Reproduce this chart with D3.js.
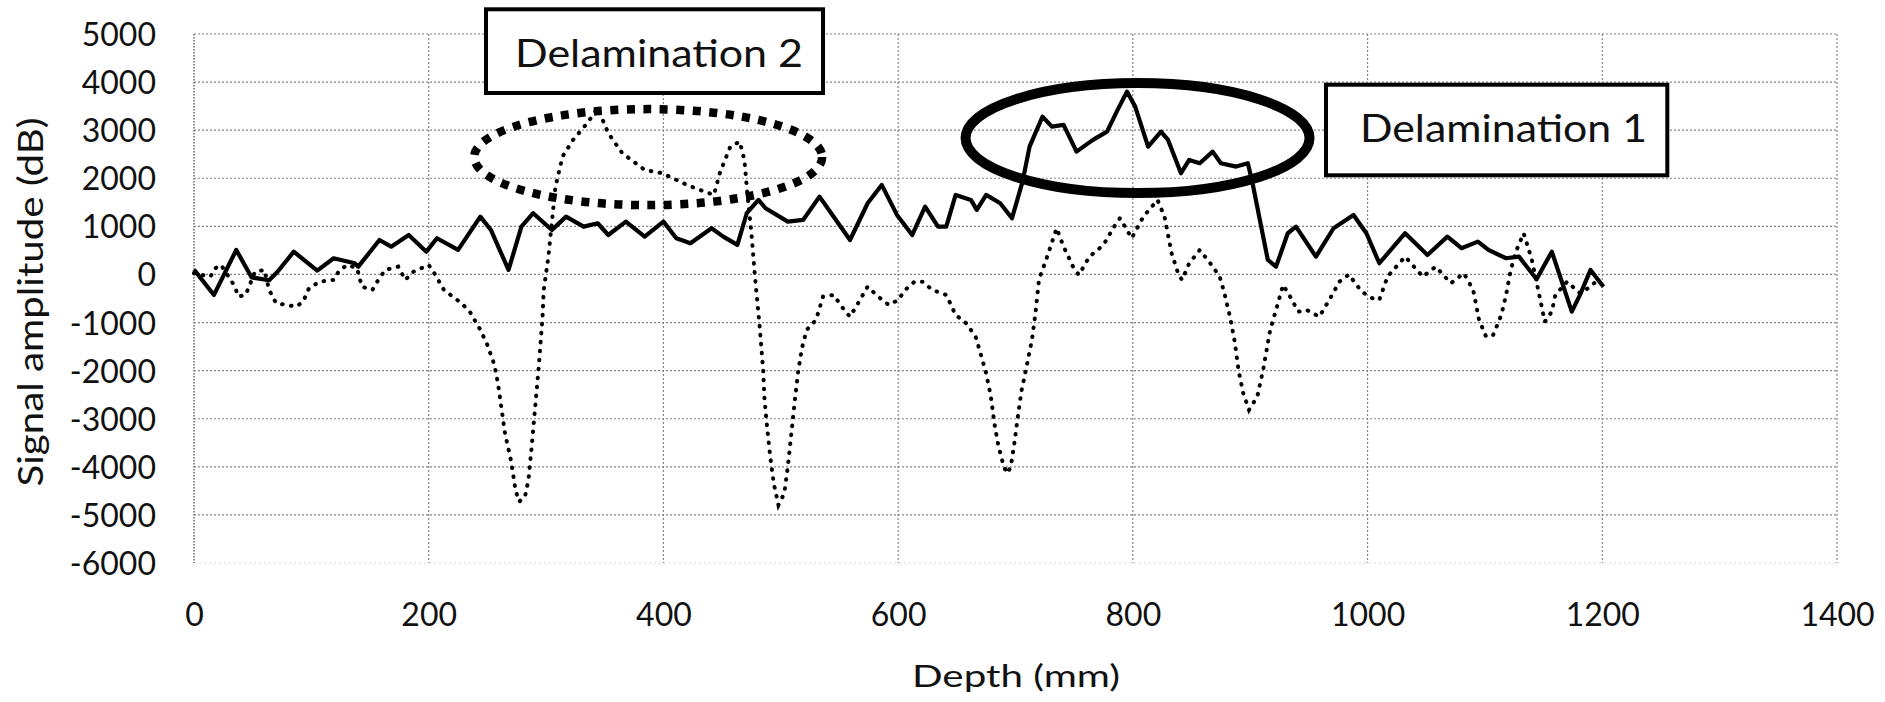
<!DOCTYPE html>
<html>
<head>
<meta charset="utf-8">
<script src="https://cdn.jsdelivr.net/npm/d3@7"></script>
<style>
  html, body { margin: 0; padding: 0; background: #fff; }
  svg { display: block; }
  text { font-family: Lato, "Open Sans", sans-serif; fill: #111; }
</style>
</head>
<body>
<svg id="chart" width="1885" height="702"></svg>
<script>
// Depth (mm) vs signal amplitude, solid trace
const solidTrace = [
  [0,100],[17,-426],[36,510],[49,-60],[64,-120],[71,52],[85,474],[105,80],[119,337],[137,233],
  [140,162],[158,717],[168,578],[183,821],[198,474],[207,753],[225,510],[244,1202],[253,925],[268,94],
  [279,994],[289,1273],[305,925],[317,1202],[332,994],[344,1065],[353,821],[368,1098],[384,786],[400,1098],
  [411,753],[423,649],[441,961],[451,786],[463,614],[471,1273],[481,1550],[487,1377],[506,1098],[519,1134],
  [533,1618],[544,1238],[559,717],[574,1481],[586,1862],[599,1238],[612,821],[623,1410],[634,994],[641,994],
  [649,1654],[662,1550],[667,1342],[675,1654],[687,1481],[697,1169],[706,1930],[712,2658],[723,3282],[731,3074],
  [741,3110],[752,2554],[766,2798],[778,2970],[787,3422],[795,3802],[802,3490],[813,2658],[824,2970],[830,2798],
  [841,2105],[848,2382],[857,2313],[868,2554],[875,2313],[888,2243],[898,2313],[902,1897],[915,302],[922,162],
  [932,857],[939,994],[956,370],[971,961],[988,1238],[999,857],[1010,233],[1032,857],[1051,406],[1068,786],
  [1080,545],[1094,682],[1103,510],[1118,337],[1129,370],[1144,-100],[1157,474],[1174,-774],[1181,-426],[1190,94],
  [1201,-254]
];

// Depth (mm) vs signal amplitude, dotted trace
const dottedTrace = [
  [0,25],[14,-45],[18,128],[23,198],[34,-218],[38,-461],[44,-426],[52,58],[60,94],[64,-322],
  [70,-600],[79,-634],[87,-670],[93,-565],[98,-287],[107,-150],[119,-114],[124,94],[131,198],[139,128],
  [143,-254],[152,-322],[157,-114],[163,94],[174,162],[180,-114],[187,58],[200,198],[204,58],[213,-322],
  [228,-600],[235,-774],[244,-1154],[250,-1466],[256,-1882],[259,-2263],[262,-2783],[265,-3303],[270,-3858],[274,-4482],
  [277,-4726],[282,-4622],[285,-4274],[288,-3511],[291,-2679],[294,-1847],[297,-878],[298,-322],[302,370],[308,1826],
  [314,2450],[323,2798],[335,3145],[344,3457],[353,2937],[365,2521],[384,2174],[399,2105],[420,1862],[435,1722],
  [443,1654],[448,2105],[457,2658],[465,2762],[469,2382],[472,1550],[475,857],[478,-45],[482,-1085],[485,-1986],
  [486,-2541],[488,-3095],[491,-3789],[494,-4343],[498,-4794],[503,-4551],[506,-3998],[509,-3303],[512,-2610],[515,-1986],
  [518,-1535],[522,-1154],[530,-946],[536,-461],[545,-426],[553,-704],[559,-878],[565,-634],[574,-254],[583,-461],
  [592,-634],[600,-530],[606,-322],[614,-150],[621,-150],[629,-322],[641,-426],[649,-842],[658,-1015],[666,-1294],
  [671,-1710],[675,-2055],[679,-2541],[682,-3095],[685,-3511],[690,-3998],[693,-4135],[696,-3998],[699,-3511],[702,-2958],
  [705,-2437],[710,-1847],[714,-1362],[717,-807],[720,-114],[725,233],[728,441],[735,961],[741,578],[749,162],
  [754,-10],[763,370],[775,614],[784,994],[789,1169],[795,925],[799,753],[809,1202],[821,1550],[827,1202],
  [833,441],[839,-10],[842,-114],[848,233],[857,510],[866,233],[874,-45],[878,-385],[883,-905],[887,-1425],
  [890,-1986],[894,-2465],[899,-2818],[906,-2541],[911,-1986],[917,-1154],[922,-738],[928,-218],[934,-461],[941,-774],
  [948,-738],[959,-878],[969,-461],[976,-150],[984,0],[995,-357],[1004,-495],[1010,-530],[1017,-45],[1032,370],
  [1047,-45],[1058,162],[1071,-183],[1082,25],[1090,-322],[1095,-946],[1101,-1294],[1107,-1258],[1114,-842],[1118,-426],
  [1122,94],[1127,510],[1133,857],[1140,302],[1146,-391],[1151,-982],[1157,-774],[1160,-426],[1170,-150],[1181,-391],
  [1190,-254],[1196,-114]
];

const xTickValues = [0, 200, 400, 600, 800, 1000, 1200, 1400];
const yTickValues = [5000, 4000, 3000, 2000, 1000, 0, -1000, -2000, -3000, -4000, -5000, -6000];
const xTitle = "Depth (mm)";
const yTitle = "Signal amplitude (dB)";
const callouts = ["Delamination 1", "Delamination 2"];

const svg = d3.select("#chart");
const margin = { left: 194, right: 48, top: 34, bottom: 139 };
const W = 1885, H = 702;
const x = d3.scaleLinear().domain([0, 1400]).range([margin.left, W - margin.right]);
const y = d3.scaleLinear().domain([-6000, 5000]).range([H - margin.bottom, margin.top]);

// Plain hyphen-minus for negative tick labels
const tickText = d => String(d);

// Grid (dotted, grey)
const grid = svg.append("g");
grid.selectAll("line.h").data(yTickValues.filter(v => v > -6000)).join("line")
  .attr("x1", x(0)).attr("x2", x(1400))
  .attr("y1", d => y(d)).attr("y2", d => y(d))
  .attr("stroke", "#858585").attr("stroke-width", 1.2).attr("stroke-dasharray", "2,2");
grid.append("line")
  .attr("x1", x(0)).attr("x2", x(1400)).attr("y1", y(-6000)).attr("y2", y(-6000))
  .attr("stroke", "#d4d4d4").attr("stroke-width", 1).attr("stroke-dasharray", "2,3");
grid.selectAll("line.v").data(xTickValues.filter(v => v > 0)).join("line")
  .attr("y1", y(5000)).attr("y2", y(-6000))
  .attr("x1", d => x(d)).attr("x2", d => x(d))
  .attr("stroke", "#858585").attr("stroke-width", 1.2).attr("stroke-dasharray", "2,2");
// Left axis line
grid.append("line")
  .attr("x1", x(0)).attr("x2", x(0)).attr("y1", y(5000)).attr("y2", y(-6000))
  .attr("stroke", "#8c8c8c").attr("stroke-width", 2).attr("stroke-dasharray", "1.5,1.5");

// Tick labels via d3 axes (domain and tick marks hidden)
const yAxis = svg.append("g").attr("transform", `translate(${x(0) - 38},0)`)
  .call(d3.axisLeft(y).tickValues(yTickValues).tickSize(0).tickPadding(0).tickFormat(tickText));
yAxis.select(".domain").remove();
yAxis.selectAll("text").attr("font-size", 32).attr("font-family", "Lato, sans-serif")
  .attr("fill", "#1a1a1a").attr("dy", "0.36em");

const xAxis = svg.append("g").attr("transform", `translate(0,${y(-6000)})`)
  .call(d3.axisBottom(x).tickValues(xTickValues).tickSize(0).tickPadding(0).tickFormat(tickText));
xAxis.select(".domain").remove();
xAxis.selectAll("text").attr("font-size", 32).attr("font-family", "Lato, sans-serif")
  .attr("fill", "#1a1a1a").attr("dy", null).attr("y", 62.5);

// Axis titles
svg.append("text")
  .attr("x", 1016).attr("y", 687)
  .attr("text-anchor", "middle").attr("font-size", 31)
  .attr("textLength", 208).attr("lengthAdjust", "spacingAndGlyphs")
  .attr("fill", "#1a1a1a")
  .text(xTitle);

svg.append("text")
  .attr("transform", "translate(42.5,302) scale(1.1,1) rotate(-90)")
  .attr("text-anchor", "middle").attr("font-size", 31)
  .attr("textLength", 369).attr("lengthAdjust", "spacingAndGlyphs")
  .attr("fill", "#1a1a1a")
  .text(yTitle);

// Series
const line = d3.line().x(d => x(d[0])).y(d => y(d[1]));

svg.append("path").datum(dottedTrace)
  .attr("d", line).attr("fill", "none")
  .attr("stroke", "#000").attr("stroke-width", 4)
  .attr("stroke-linecap", "round").attr("stroke-dasharray", "0.6,8.4");

svg.append("path").datum(solidTrace)
  .attr("d", line).attr("fill", "none")
  .attr("stroke", "#000").attr("stroke-width", 4.2)
  .attr("stroke-linejoin", "round");

// Callout ellipses
svg.append("ellipse")
  .attr("cx", x(387)).attr("cy", y(2440)).attr("rx", 174).attr("ry", 48)
  .attr("fill", "none").attr("stroke", "#000").attr("stroke-width", 8.5)
  .attr("stroke-dasharray", "8,8.5");

svg.append("ellipse")
  .attr("cx", x(804)).attr("cy", y(2835)).attr("rx", 172).attr("ry", 55)
  .attr("fill", "none").attr("stroke", "#000").attr("stroke-width", 10);

// Callout boxes
function calloutBox(label, x0, y0, w, h, tx, tBase, tLen) {
  svg.append("rect")
    .attr("x", x0).attr("y", y0).attr("width", w).attr("height", h)
    .attr("fill", "#fff").attr("stroke", "#000").attr("stroke-width", 4);
  svg.append("text")
    .attr("x", tx).attr("y", tBase).attr("font-size", 38.5)
    .attr("textLength", tLen).attr("lengthAdjust", "spacingAndGlyphs")
    .attr("fill", "#000")
    .text(label);
}
calloutBox(callouts[1], 486, 9.3, 337, 83.7, 515, 66.7, 288);
calloutBox(callouts[0], 1326, 84.7, 341.3, 90.6, 1360, 141.7, 287);
</script>
</body>
</html>
